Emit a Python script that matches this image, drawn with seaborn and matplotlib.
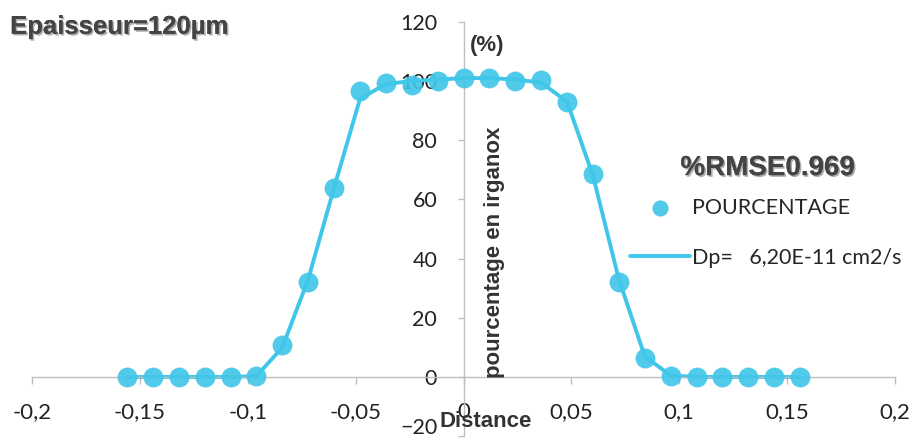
import numpy as np
import pandas as pd
import matplotlib.pyplot as plt
import matplotlib.patheffects as pe
import matplotlib.transforms as mtransforms
import seaborn as sns

# --- data ---
distance = [-0.156, -0.144, -0.132, -0.120, -0.108, -0.096, -0.084, -0.072, -0.060,
            -0.048, -0.036, -0.024, -0.012, 0.0, 0.012, 0.024, 0.036, 0.048, 0.060,
            0.072, 0.084, 0.096, 0.108, 0.120, 0.132, 0.144, 0.156]
pourcentage = [0, 0, 0, 0, 0, 0.5, 10.8, 32, 64,
               96.5, 99.5, 98.5, 100, 101, 101, 100, 100.5, 93, 68.5,
               32, 6.5, 0.5, 0, 0, 0, 0, 0]
# fitted model (Dp = 6,20E-11 cm2/s)
modele = [0, 0, 0, 0, 0, 0.3, 10, 33, 64,
          94, 99, 100, 100.5, 101, 101, 100.5, 99.5, 93, 68,
          33, 7, 0.5, 0, 0, 0, 0, 0]

xticks = [-0.2, -0.15, -0.1, -0.05, 0, 0.05, 0.1, 0.15, 0.2]
xtick_labels = ['-0,2', '-0,15', '-0,1', '-0,05', '0', '0,05', '0,1', '0,15', '0,2']
yticks = [-20, 0, 20, 40, 60, 80, 100, 120]

df = pd.DataFrame({'distance': distance, 'pourcentage': pourcentage, 'modele': modele})

sns.set_theme(style="white")
plt.rcParams['font.family'] = ['Lato', 'DejaVu Sans']

color = '#3fc6e8'
grey = '#bfbfbf'

fig = plt.figure(figsize=(9.17, 4.46), dpi=100)
ax = fig.add_axes([0.035, 0.022, 0.941, 0.929])

sns.lineplot(data=df, x='distance', y='modele', color=color, linewidth=2.8,
             ax=ax, label='Dp=   6,20E-11 cm2/s', legend=False)
sns.scatterplot(data=df, x='distance', y='pourcentage', color=color, s=190,
                edgecolor=color, linewidth=0.5, alpha=0.9, ax=ax,
                label='POURCENTAGE', legend=False, zorder=3)

ax.set_xlim(-0.2, 0.2)
ax.set_ylim(-20, 120)
ax.set_xlabel('')
ax.set_ylabel('')

# axes crossing at zero, Excel style
ax.spines['left'].set_position(('data', 0))
ax.spines['bottom'].set_position(('data', 0))
ax.spines['top'].set_visible(False)
ax.spines['right'].set_visible(False)
for s in ['left', 'bottom']:
    ax.spines[s].set_color(grey)
    ax.spines[s].set_linewidth(1.0)

ax.set_xticks(xticks)
ax.set_xticklabels(xtick_labels)
ax.set_yticks(yticks)
ax.tick_params(axis='x', direction='out', length=5, width=1, color=grey,
               pad=13, labelsize=16, labelcolor='#222222', bottom=True)
ax.tick_params(axis='y', direction='out', length=4, width=1, color=grey,
               pad=15, labelsize=15.5, labelcolor='#222222', left=True)

# the -20 label sits a little higher in the original, keep it inside the figure
lowest = ax.get_yticklabels()[0]
lowest.set_transform(lowest.get_transform() +
                     mtransforms.ScaledTranslation(0, 7 / 72, fig.dpi_scale_trans))

# titles / labels
shadow = [pe.withSimplePatchShadow(offset=(1.2, -1.2), shadow_rgbFace='#999999', alpha=0.8),
          pe.Normal()]
ax.text(0.003, 112, '(%)', fontsize=16, fontweight='bold', family='Liberation Sans',
        color='#333333', va='center', ha='left')
ax.text(0.0145, 42, 'pourcentage en irganox', fontsize=16, fontweight='bold',
        family='Liberation Sans', color='#333333', rotation=90, va='center', ha='center')
ax.text(0.0102, -15, 'Distance', fontsize=16, fontweight='bold',
        family='Liberation Sans', color='#333333', va='center', ha='center')

fig.text(0.011, 0.94, 'Epaisseur=120\u00b5m', fontsize=18.5, fontweight='bold',
         family='Liberation Sans', color='#444444', va='center', ha='left',
         path_effects=shadow)
fig.text(0.742, 0.623, '%RMSE0.969', fontsize=20, fontweight='bold',
         family='Liberation Sans', color='#444444', va='center', ha='left',
         path_effects=shadow)

handles, labels = ax.get_legend_handles_labels()
hmap = dict(zip(labels, handles))

leg1 = ax.legend([hmap['POURCENTAGE']], ['POURCENTAGE'], loc='center left',
                 bbox_to_anchor=(0.683, 0.551), frameon=False, fontsize=15.5,
                 handlelength=2.8, handletextpad=0.1, borderaxespad=0, markerscale=0.8)
ax.add_artist(leg1)
ax.legend([hmap['Dp=   6,20E-11 cm2/s']], ['Dp=   6,20E-11 cm2/s'], loc='center left',
          bbox_to_anchor=(0.683, 0.43), frameon=False, fontsize=15.5,
          handlelength=2.8, handletextpad=0.1, borderaxespad=0)

fig.savefig('out.png', dpi=100)
